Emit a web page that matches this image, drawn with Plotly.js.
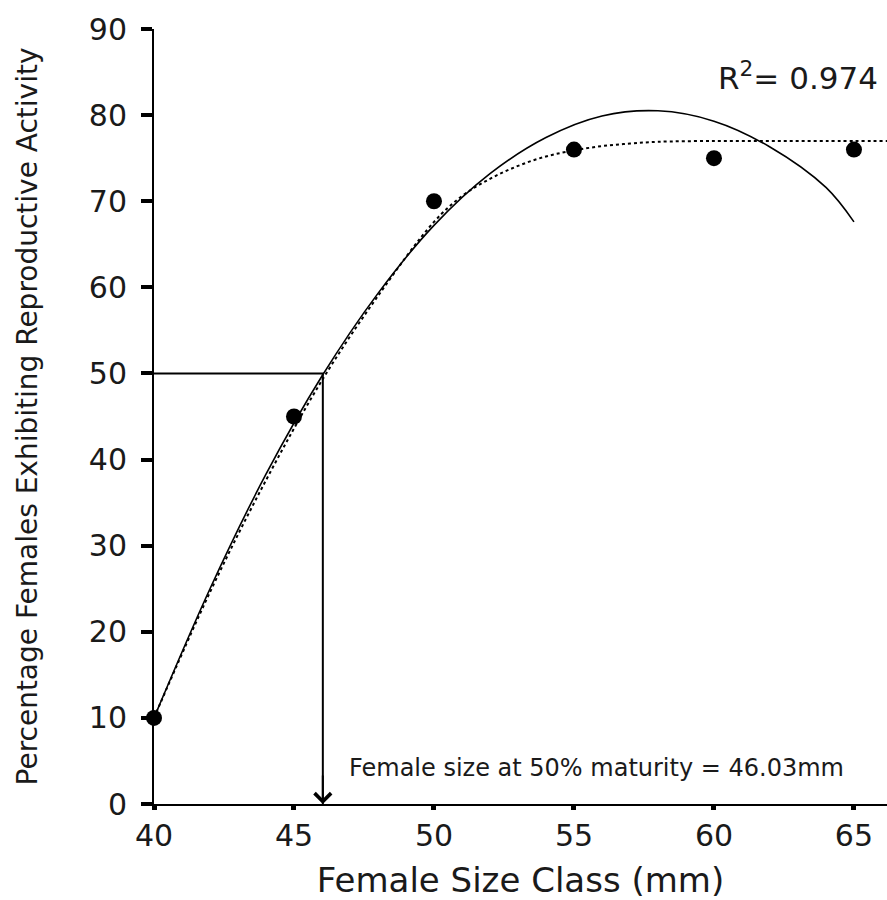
<!DOCTYPE html>
<html>
<head>
<meta charset="utf-8">
<script src="https://cdn.plot.ly/plotly-3.0.1.min.js"></script>
<style>html,body{margin:0;padding:0;background:#fff;}</style>
</head>
<body>
<div id="chart" style="width:887px;height:900px;"></div>
<script>
// Observed data points
const sizeClass = [40, 45, 50, 55, 60, 65];
const pctActive = [10, 45, 70, 76, 75, 76];

// Polynomial fit curve (solid)
const polyX = [40, 42, 44, 46, 48, 50, 52, 54, 56, 58, 60, 62, 64, 65];
const polyY = [10, 25.0, 38.3, 49.7, 59.3, 67.2, 73.2, 77.4, 79.9, 80.5, 79.3, 76.3, 71.6, 67.6];

// Asymptotic curve (dotted)
const asymX = [40, 42, 44, 46, 48, 50, 51, 52, 53, 54, 55, 56, 57, 58, 60, 62, 64, 66.2];
const asymY = [10, 24.6, 37.6, 49.2, 59.0, 67.6, 70.6, 72.6, 74.1, 75.2, 75.9, 76.4, 76.7, 76.9, 77, 77, 77, 77];

// 50% maturity reference
const maturitySize = 46.03;
const maturityPct = 50;
const refX = [40, maturitySize, maturitySize];
const refY = [maturityPct, maturityPct, 0];

const xTicks = [40, 45, 50, 55, 60, 65];
const yTicks = [0, 10, 20, 30, 40, 50, 60, 70, 80, 90];

const rSquaredText = 'R<sup>2</sup>= 0.974';
const maturityText = 'Female size at 50% maturity = 46.03mm';

const FONT = 'DejaVu Sans, sans-serif';
const TXT = '#1a1a1a';

const traces = [
  {x: asymX, y: asymY, mode: 'lines', line: {color: '#000', width: 2, dash: 'dot', shape: 'spline'}, hoverinfo: 'skip'},
  {x: polyX, y: polyY, mode: 'lines', line: {color: '#000', width: 1.6, shape: 'spline'}, hoverinfo: 'skip'},
  {x: refX, y: refY, mode: 'lines', line: {color: '#000', width: 2}, hoverinfo: 'skip'},
  {x: sizeClass, y: pctActive, mode: 'markers', cliponaxis: false, marker: {color: '#000', size: 16, symbol: 'circle'}}
];

const layout = {
  width: 887, height: 900,
  margin: {l: 154, r: 0, t: 29, b: 96},
  paper_bgcolor: '#fff', plot_bgcolor: '#fff',
  showlegend: false,
  font: {family: FONT, color: TXT},
  xaxis: {
    range: [40, 66.18], tickvals: xTicks, ticktext: xTicks.map(String),
    ticks: 'outside', ticklen: 4, tickwidth: 5, tickcolor: '#000',
    showline: true, linecolor: '#000', linewidth: 2,
    showgrid: false, zeroline: false,
    tickfont: {family: FONT, size: 30, color: TXT},
    title: {text: 'Female Size Class (mm)', font: {family: FONT, size: 34, color: TXT}, standoff: 16}
  },
  yaxis: {
    range: [0, 90], tickvals: yTicks, ticktext: yTicks.map(String),
    ticks: 'outside', ticklen: 11, tickwidth: 4, tickcolor: '#000',
    ticklabelstandoff: 8,
    showline: true, linecolor: '#000', linewidth: 2,
    showgrid: false, zeroline: false,
    tickfont: {family: FONT, size: 30, color: TXT},
    title: {text: 'Percentage Females Exhibiting Reproductive Activity', font: {family: FONT, size: 28, color: TXT}, standoff: 43}
  },
  annotations: [
    {x: 0.99, y: 0.94, xref: 'paper', yref: 'paper', xanchor: 'right', yanchor: 'middle',
     text: rSquaredText, showarrow: false, font: {family: FONT, size: 31, color: TXT}},
    {x: maturitySize, y: 4.2, xref: 'x', yref: 'y', xanchor: 'left', yanchor: 'middle', xshift: 24,
     text: maturityText, showarrow: false, font: {family: FONT, size: 24, color: TXT}},
    {x: maturitySize, y: 0, xref: 'x', yref: 'y', ax: 0, ay: -30, showarrow: true,
     arrowhead: 4, arrowsize: 1.6, arrowwidth: 2, arrowcolor: '#000', text: ''}
  ]
};

Plotly.newPlot('chart', traces, layout, {displayModeBar: false, staticPlot: true});
</script>
</body>
</html>
